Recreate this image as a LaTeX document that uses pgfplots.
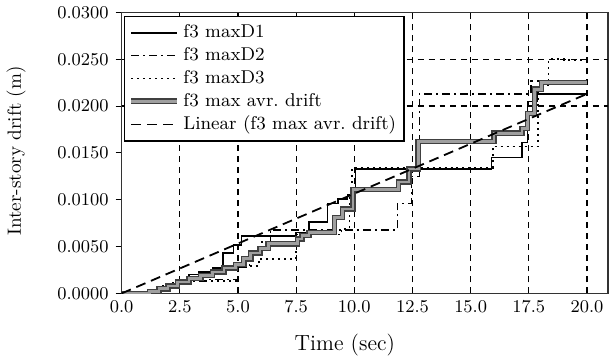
\documentclass[border=0pt]{standalone}
\usepackage{pgfplots}
\pgfplotsset{compat=1.18}
\begin{document}
\begin{tikzpicture}
\tikzset{gridl/.style={black, line width=0.6pt, dash pattern=on 3pt off 2.5pt}}
\begin{axis}[
  scale only axis,
  width=244pt, height=141pt,
  xmin=0, xmax=20.9, ymin=0, ymax=0.03,
  xtick={0,2.5,...,20}, ytick={0,0.005,...,0.03},
  scaled y ticks=false, scaled x ticks=false,
  ticklabel style={font=\fontsize{8.7}{10}\selectfont},
  xticklabel style={/pgf/number format/.cd, fixed, fixed zerofill, precision=1},
  yticklabel style={/pgf/number format/.cd, fixed, fixed zerofill, precision=4},
  xtick pos=left, ytick pos=left,
  x tick style={black, line width=0.5pt}, y tick style={black, line width=0.5pt},
  xtick align=inside, ytick align=outside,
  major tick length=3pt,
  xmajorgrids=true, major grid style={gridl},
  axis line style={black!80, line width=0.8pt},
  xlabel={Time (sec)}, ylabel={Inter-story drift (m)},
  xlabel style={font=\fontsize{11}{13}\selectfont, xshift=-10pt, yshift=-4pt},
  ylabel style={font=\fontsize{9.6}{12}\selectfont, yshift=9pt, xshift=1pt},
  legend style={at={(axis cs:0.1,0.0296)}, anchor=north west, draw=black, line width=0.6pt, fill=white,
    font=\fontsize{9.3}{11}\selectfont, row sep=-0.6pt, inner sep=2pt, cells={anchor=west}},
  legend cell align=left,
  legend image code/.code={\draw[#1] (0cm,0cm) -- (0.8cm,0cm);},
]
\addplot[gridl, forget plot] coordinates {(0,0.02) (20.9,0.02)};
\addplot[gridl, forget plot] coordinates {(0,0.025) (20.9,0.025)};

% f3 maxD1
\addplot[black, line width=0.8pt, const plot mark left] coordinates {
(0,0) (1.0,0.0001) (1.4,0.0003) (1.7,0.0007) (2.0,0.0010) (2.4,0.0014) (2.9,0.0020)
(3.3,0.0023) (3.9,0.0027) (4.35,0.0043) (4.8,0.0052) (5.15,0.0061) (7.5,0.0065)
(8.05,0.0076) (8.85,0.0096) (9.3,0.0101) (9.7,0.0105) (10.05,0.0133) (15.9,0.0145)
(17.2,0.0161) (17.45,0.0205) (17.85,0.0213) (20,0.0213)};
\addlegendentry{f3 maxD1}

% f3 maxD2
\addplot[black, line width=0.8pt, dash pattern=on 4pt off 2pt on 1pt off 2pt, const plot mark left] coordinates {
(0,0) (1.2,0.0002) (1.7,0.0008) (2.2,0.0011) (3.0,0.0013) (3.6,0.0015) (5.0,0.0028)
(5.5,0.0045) (6.0,0.0055) (6.4,0.0068) (11.85,0.0096) (12.45,0.0125) (12.8,0.0213)
(17.6,0.0227) (18.1,0.0225) (20,0.0225)};
\addlegendentry{f3 maxD2}

% f3 maxD3
\addplot[black, line width=0.8pt, dash pattern=on 1pt off 2pt, const plot mark left] coordinates {
(0,0) (1.3,0.0002) (1.8,0.0010) (2.3,0.0013) (5.0,0.0029) (5.9,0.0037) (7.5,0.0063)
(9.45,0.0069) (9.8,0.0105) (9.9,0.0134) (15.95,0.0157) (17.9,0.0222) (18.35,0.0250)
(19.0,0.0249) (20,0.0248)};
\addlegendentry{f3 maxD3}

% f3 max avr. drift (outline + fill)
\addplot[black!75, line width=2.8pt, const plot mark left, forget plot] coordinates {
(0,0) (1.2,0.0002) (1.6,0.0005) (2.0,0.0008) (2.4,0.0012) (2.9,0.0016) (3.4,0.0019)
(3.9,0.0023) (4.4,0.0027) (4.9,0.0031) (5.25,0.0037) (5.55,0.0043) (5.95,0.0048)
(6.3,0.0053) (7.55,0.0058) (7.75,0.0062) (8.05,0.0065) (9.15,0.0081) (9.5,0.0090)
(9.95,0.0111) (11.9,0.0119) (12.35,0.0133) (12.75,0.0162) (16.0,0.0171) (17.2,0.0176)
(17.45,0.0192) (17.75,0.0218) (18.05,0.0225) (20,0.0225)};
\addplot[gray!75, line width=1.3pt, const plot mark left,
  legend image code/.code={
    \draw[black!75, line width=2.8pt] (0cm,0cm) -- (0.8cm,0cm);
    \draw[gray!75, line width=1.3pt] (0cm,0cm) -- (0.8cm,0cm);}] coordinates {
(0,0) (1.2,0.0002) (1.6,0.0005) (2.0,0.0008) (2.4,0.0012) (2.9,0.0016) (3.4,0.0019)
(3.9,0.0023) (4.4,0.0027) (4.9,0.0031) (5.25,0.0037) (5.55,0.0043) (5.95,0.0048)
(6.3,0.0053) (7.55,0.0058) (7.75,0.0062) (8.05,0.0065) (9.15,0.0081) (9.5,0.0090)
(9.95,0.0111) (11.9,0.0119) (12.35,0.0133) (12.75,0.0162) (16.0,0.0171) (17.2,0.0176)
(17.45,0.0192) (17.75,0.0218) (18.05,0.0225) (20,0.0225)};
\addlegendentry{f3 max avr.\ drift}

% Linear trend
\addplot[black, line width=0.9pt, dash pattern=on 5pt off 3pt] coordinates {(0,0) (20,0.0213)};
\addlegendentry{Linear (f3 max avr.\ drift)}
\end{axis}
\end{tikzpicture}
\end{document}
